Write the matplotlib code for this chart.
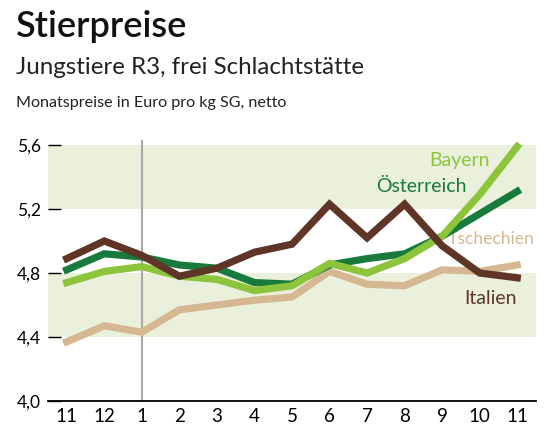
import matplotlib
matplotlib.use("Agg")
import matplotlib.pyplot as plt

months = ["11", "12", "1", "2", "3", "4", "5", "6", "7", "8", "9", "10", "11"]
bayern = [4.74, 4.81, 4.84, 4.78, 4.76, 4.69, 4.72, 4.86, 4.80, 4.89, 5.03, 5.29, 5.59]
oesterreich = [4.82, 4.92, 4.90, 4.85, 4.83, 4.74, 4.73, 4.85, 4.89, 4.92, 5.03, 5.17, 5.31]
tschechien = [4.37, 4.47, 4.43, 4.57, 4.60, 4.63, 4.65, 4.81, 4.73, 4.72, 4.82, 4.81, 4.85]
italien = [4.89, 5.00, 4.91, 4.78, 4.83, 4.93, 4.98, 5.23, 5.02, 5.23, 4.97, 4.80, 4.77]
yticks = [4.0, 4.4, 4.8, 5.2, 5.6]
ytick_labels = ["4,0", "4,4", "4,8", "5,2", "5,6"]
bands = [(4.4, 4.8), (5.2, 5.6)]

FONT = ['Lato', 'DejaVu Sans']
plt.rcParams['font.family'] = FONT

c_bay = '#8cc43c'
c_oes = '#187a3d'
c_tsc = '#d5b891'
c_ita = '#5e3526'
c_band = '#ebf0dc'

fig = plt.figure(figsize=(5.59, 4.38), dpi=100)
ax = fig.add_axes([48/559, 37/438, (536-48)/559, (401-145)/438])

x = list(range(len(months)))
for lo, hi in bands:
    ax.axhspan(lo, hi, color=c_band, zorder=0, lw=0)

ax.axvline(2, color='#aaaaaa', lw=1.5, ymin=0, ymax=1.015, clip_on=False, zorder=1)

lw = 5.2
ax.plot(x, tschechien, color=c_tsc, lw=lw, zorder=3, clip_on=False, solid_joinstyle='miter')
ax.plot(x, oesterreich, color=c_oes, lw=lw, zorder=4, clip_on=False, solid_joinstyle='miter')
ax.plot(x, bayern, color=c_bay, lw=lw, zorder=5, clip_on=False, solid_joinstyle='miter')
ax.plot(x, italien, color=c_ita, lw=lw, zorder=6, clip_on=False, solid_joinstyle='miter')

lab_fs = 14
ax.text(11.26, 5.506, "Bayern", color=c_bay, fontsize=lab_fs, ha='right', va='center', zorder=2)
ax.text(10.64, 5.34, "Österreich", color=c_oes, fontsize=lab_fs, ha='right', va='center', zorder=2)
ax.text(12.45, 5.01, "Tschechien", color=c_tsc, fontsize=12.6, ha='right', va='center', zorder=2)
ax.text(12.0, 4.64, "Italien", color=c_ita, fontsize=lab_fs, ha='right', va='center', zorder=2)

ax.set_xlim(-0.5, 12.5)
ax.set_ylim(4.0, 5.6)
ax.set_xticks(x)
ax.set_xticklabels(months, fontsize=13.5)
ax.set_yticks(yticks)
ax.set_yticklabels(ytick_labels, fontsize=12.5)
ax.tick_params(axis='x', length=0, pad=5)
ax.tick_params(axis='y', direction='in', length=9, width=1, pad=5, color='black')
for s in ['top', 'right', 'left']:
    ax.spines[s].set_visible(False)
ax.spines['bottom'].set_linewidth(1.3)
ax.spines['bottom'].set_zorder(7)
ax.set_facecolor('white')

fig.text(16/559, 1 - 37/438, "Stierpreise", fontsize=26, fontweight='semibold', color='#111111', va='baseline', ha='left')
fig.text(16/559, 1 - 74/438, "Jungstiere R3, frei Schlachtstätte", fontsize=17.4, color='#222222', va='baseline', ha='left')
fig.text(16/559, 1 - 107/438, "Monatspreise in Euro pro kg SG, netto", fontsize=11.6, color='#222222', va='baseline', ha='left')

fig.savefig("out.png", dpi=100)
